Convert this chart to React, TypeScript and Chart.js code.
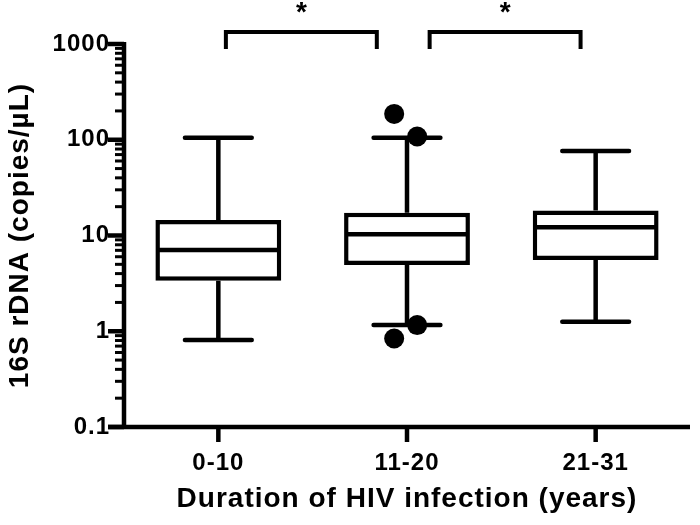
import React, { useEffect, useRef } from "react";
import { Chart, registerables } from "chart.js";

Chart.register(...registerables);

const CATEGORIES = ["0-10", "11-20", "21-31"];
const WHISKER_LOW = [0.81, 1.16, 1.26];
const Q1 = [3.37, 4.92, 5.55];
const MEDIAN = [7.06, 10.3, 12.2];
const Q3 = [14.5, 17.3, 18.2];
const WHISKER_HIGH = [105, 105, 76.3];
// outliers: category index (with small horizontal jitter) and value
const OUTLIER_X = [0.932, 1.054, 1.054, 0.932];
const OUTLIER_Y = [186, 108, 1.16, 0.84];
const Y_TICK_LABELS = ["0.1", "1", "10", "100", "1000"];
// significance brackets (x in category units, y in data units)
const BRACKET_FROM = [0.04, 1.12];
const BRACKET_TO = [0.84, 1.92];
const BRACKET_LABELS = ["*", "*"];
const BRACKET_TOP = 1333;
const BRACKET_FOOT = 888;
const STAR_BASE = 1718;
const CAP_HALF = 0.177;

const FONT = "'Liberation Sans', Arial, Helvetica, sans-serif";
const LW = 4.5;

const extrasPlugin = {
  id: "boxExtras",
  beforeDraw(chart: any) {
    (chart.ctx as any).letterSpacing = "1px";
  },
  afterDatasetsDraw(chart: any) {
    const { ctx } = chart;
    const xs = chart.scales.x;
    const xo = chart.scales.xo;
    const ys = chart.scales.y;
    const barMeta = chart.getDatasetMeta(0);
    ctx.save();
    ctx.strokeStyle = "#000";
    ctx.fillStyle = "#000";
    ctx.lineWidth = LW;
    for (let i = 0; i < CATEGORIES.length; i++) {
      const cx = xs.getPixelForValue(i);
      const bar = barMeta.data[i];
      const half = bar.width / 2;
      const capHalf = xo.getPixelForValue(i + CAP_HALF) - xo.getPixelForValue(i);
      // median
      ctx.lineCap = "butt";
      ctx.beginPath();
      const my = ys.getPixelForValue(MEDIAN[i]);
      ctx.moveTo(cx - half + 2, my);
      ctx.lineTo(cx + half - 2, my);
      ctx.stroke();
      // whiskers
      const yq3 = ys.getPixelForValue(Q3[i]);
      const yq1 = ys.getPixelForValue(Q1[i]);
      const yhi = ys.getPixelForValue(WHISKER_HIGH[i]);
      const ylo = ys.getPixelForValue(WHISKER_LOW[i]);
      ctx.beginPath();
      ctx.moveTo(cx, yq3);
      ctx.lineTo(cx, yhi);
      ctx.moveTo(cx, yq1);
      ctx.lineTo(cx, ylo);
      ctx.stroke();
      ctx.lineCap = "round";
      ctx.beginPath();
      ctx.moveTo(cx - capHalf, yhi);
      ctx.lineTo(cx + capHalf, yhi);
      ctx.moveTo(cx - capHalf, ylo);
      ctx.lineTo(cx + capHalf, ylo);
      ctx.stroke();
    }
    ctx.restore();
  },
  afterDraw(chart: any) {
    const { ctx, chartArea } = chart;
    const xs = chart.scales.x;
    const xo = chart.scales.xo;
    const ys = chart.scales.y;
    ctx.save();
    ctx.strokeStyle = "#000";
    ctx.fillStyle = "#000";
    ctx.lineCap = "butt";
    // axis lines
    ctx.lineWidth = LW;
    ctx.beginPath();
    ctx.moveTo(chartArea.left, chartArea.top - 2);
    ctx.lineTo(chartArea.left, chartArea.bottom + 2);
    ctx.moveTo(chartArea.left - 16, chartArea.bottom);
    ctx.lineTo(chartArea.right, chartArea.bottom);
    ctx.stroke();
    // y ticks
    const minExp = Math.round(Math.log10(ys.min));
    const maxExp = Math.round(Math.log10(ys.max));
    for (let e = minExp; e <= maxExp; e++) {
      const base = Math.pow(10, e);
      const py = ys.getPixelForValue(base);
      ctx.lineWidth = LW;
      ctx.beginPath();
      ctx.moveTo(chartArea.left - 16, py);
      ctx.lineTo(chartArea.left, py);
      ctx.stroke();
      if (e < maxExp) {
        ctx.lineWidth = 3;
        for (let k = 2; k <= 9; k++) {
          const p = ys.getPixelForValue(k * base);
          ctx.beginPath();
          ctx.moveTo(chartArea.left - 9, p);
          ctx.lineTo(chartArea.left, p);
          ctx.stroke();
        }
      }
    }
    // x ticks
    ctx.lineWidth = LW;
    for (let i = 0; i < CATEGORIES.length; i++) {
      const cx = xs.getPixelForValue(i);
      ctx.beginPath();
      ctx.moveTo(cx, chartArea.bottom);
      ctx.lineTo(cx, chartArea.bottom + 15);
      ctx.stroke();
    }
    // brackets
    ctx.lineWidth = 4;
    ctx.lineJoin = "miter";
    ctx.letterSpacing = "0px";
    ctx.font = `bold 28px ${FONT}`;
    ctx.textAlign = "center";
    ctx.textBaseline = "alphabetic";
    for (let b = 0; b < BRACKET_FROM.length; b++) {
      const x1 = xo.getPixelForValue(BRACKET_FROM[b]);
      const x2 = xo.getPixelForValue(BRACKET_TO[b]);
      const yt = ys.getPixelForValue(BRACKET_TOP);
      const yf = ys.getPixelForValue(BRACKET_FOOT);
      ctx.beginPath();
      ctx.moveTo(x1, yf);
      ctx.lineTo(x1, yt);
      ctx.lineTo(x2, yt);
      ctx.lineTo(x2, yf);
      ctx.stroke();
      ctx.fillText(BRACKET_LABELS[b], (x1 + x2) / 2, ys.getPixelForValue(STAR_BASE));
    }
    ctx.restore();
    (ctx as any).letterSpacing = "0px";
  },
};

export default function App() {
  const ref = useRef<HTMLCanvasElement>(null);
  useEffect(() => {
    if (!ref.current) return;
    const chart = new Chart(ref.current, {
      data: {
        labels: CATEGORIES,
        datasets: [
          {
            type: "bar",
            data: CATEGORIES.map((_, i) => [Q1[i], Q3[i]]) as any,
            xAxisID: "x",
            yAxisID: "y",
            backgroundColor: "#fff",
            borderColor: "#000",
            borderWidth: LW,
            borderSkipped: false,
            grouped: false,
            barPercentage: 0.667,
            categoryPercentage: 1,
          },
          {
            type: "scatter",
            data: OUTLIER_X.map((x, i) => ({ x, y: OUTLIER_Y[i] })),
            xAxisID: "xo",
            yAxisID: "y",
            backgroundColor: "#000",
            borderWidth: 0,
            pointRadius: 10,
          },
        ],
      } as any,
      options: {
        animation: false,
        responsive: false,
        maintainAspectRatio: false,
        layout: { padding: { top: 44, right: 0, left: 0, bottom: 0 } },
        plugins: {
          legend: { display: false },
          tooltip: { enabled: false },
        },
        scales: {
          x: {
            type: "category",
            offset: true,
            grid: { display: false, drawTicks: false },
            border: { display: false },
            ticks: {
              color: "#000",
              padding: 22,
              font: { family: FONT, size: 24, weight: "bold" },
            },
            title: {
              display: true,
              text: "Duration of HIV infection (years)",
              color: "#000",
              font: { family: FONT, size: 28, weight: "bold" },
              padding: { top: 0, bottom: 9 },
            },
            afterFit: (s: any) => {
              s.height = 98;
            },
          },
          xo: {
            type: "linear",
            axis: "x",
            position: "bottom",
            display: false,
            min: -0.5,
            max: 2.5,
          },
          y: {
            type: "logarithmic",
            min: 0.1,
            max: 1000,
            grid: { display: false, drawTicks: false },
            border: { display: false },
            ticks: {
              color: "#000",
              padding: 14,
              autoSkip: false,
              font: { family: FONT, size: 24, weight: "bold" },
              callback: (v: any) => {
                const l = Math.log10(Number(v));
                if (Math.abs(l - Math.round(l)) > 1e-6) return "";
                return Y_TICK_LABELS[Math.round(l) + 1] ?? "";
              },
            },
            title: {
              display: true,
              text: "16S rDNA (copies/µL)",
              color: "#000",
              font: { family: FONT, size: 28, weight: "bold" },
              padding: { top: 3, bottom: 0 },
            },
            afterFit: (s: any) => {
              s.width = 124;
            },
          },
        },
      } as any,
      plugins: [extrasPlugin],
    });
    return () => chart.destroy();
  }, []);
  return (
    <div style={{ position: "fixed", left: 0, top: 0, width: 700, height: 525, background: "#fff" }}>
      <canvas ref={ref} width={700} height={525} />
    </div>
  );
}
